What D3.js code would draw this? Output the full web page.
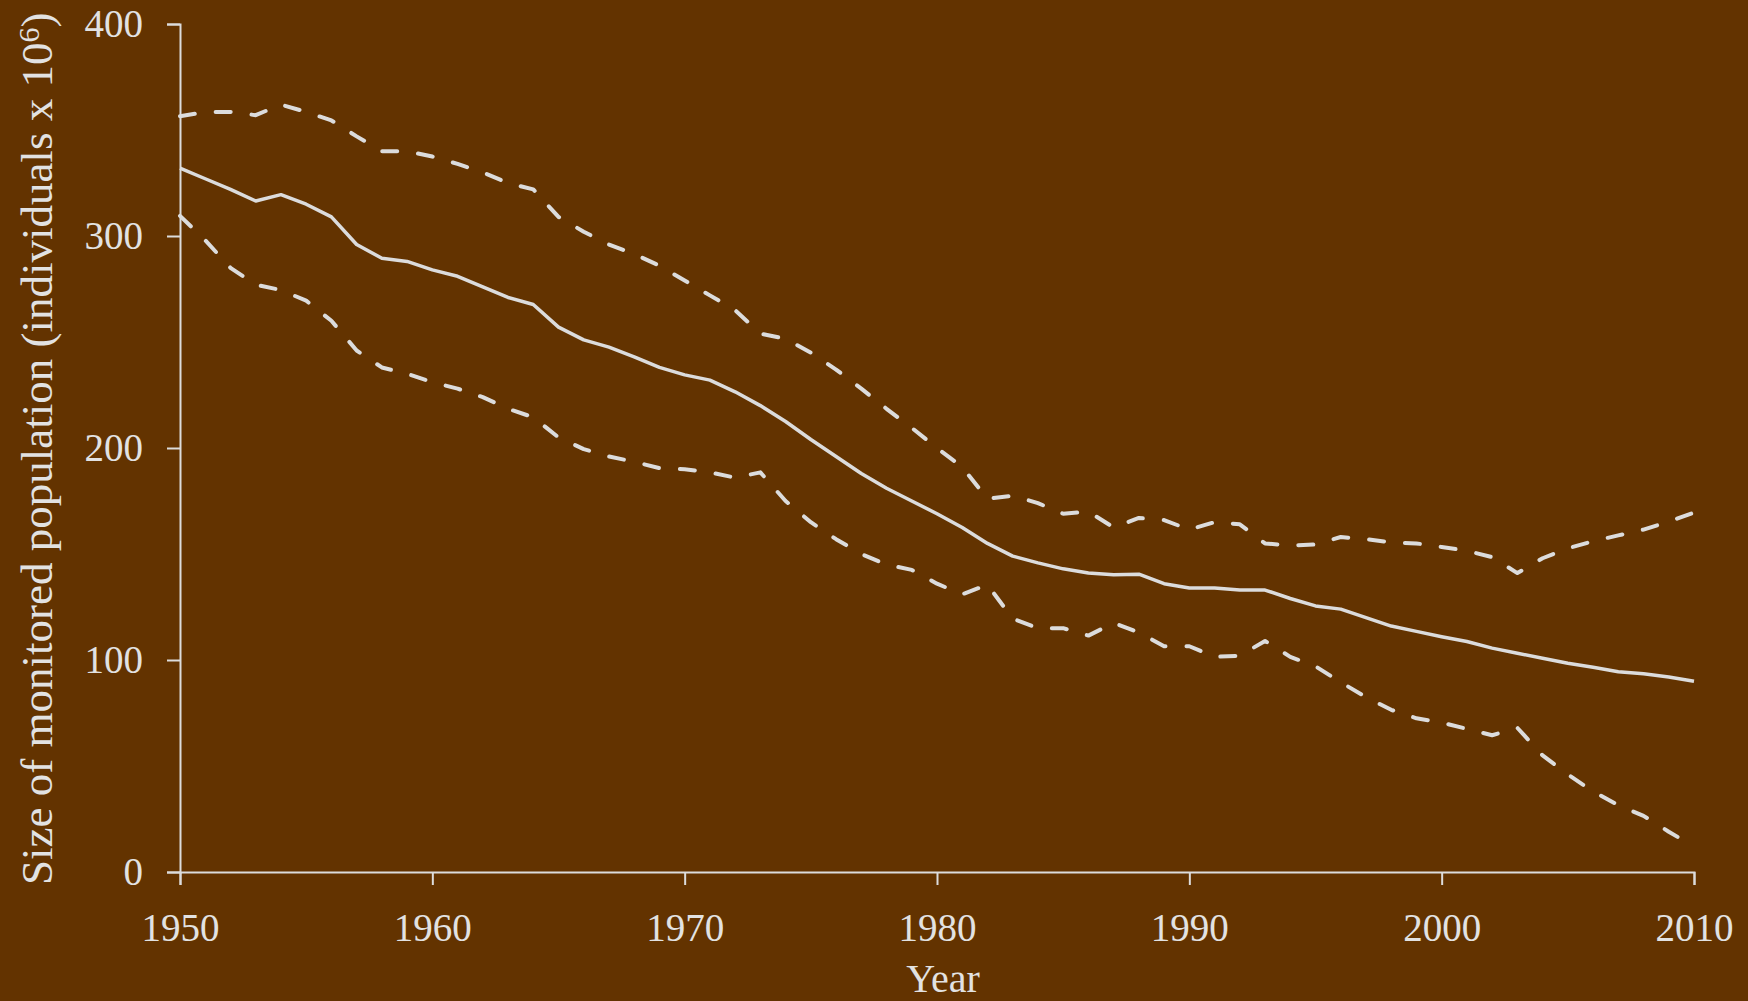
<!DOCTYPE html>
<html>
<head>
<meta charset="utf-8">
<script src="https://cdn.jsdelivr.net/npm/d3@7"></script>
<style>
  html, body { margin: 0; padding: 0; background: #633300; }
  svg { display: block; }
</style>
</head>
<body>
<svg id="chart" width="1748" height="1001"></svg>
<script>
// Monitored population size per year, with upper and lower bounds (millions)
const years = [
  1950, 1951, 1952, 1953, 1954, 1955, 1956, 1957, 1958, 1959,
  1960, 1961, 1962, 1963, 1964, 1965, 1966, 1967, 1968, 1969,
  1970, 1971, 1972, 1973, 1974, 1975, 1976, 1977, 1978, 1979,
  1980, 1981, 1982, 1983, 1984, 1985, 1986, 1987, 1988, 1989,
  1990, 1991, 1992, 1993, 1994, 1995, 1996, 1997, 1998, 1999,
  2000, 2001, 2002, 2003, 2004, 2005, 2006, 2007, 2008, 2009,
  2010
];

const estimate = [
  332, 327, 322, 316.5, 319.5, 315, 309, 296, 289.5, 288,
  284, 281, 276, 271, 267.7, 257, 251, 247.6, 243, 238,
  234.5, 232, 226.5, 220, 212.5, 204, 196, 188, 181, 175,
  169, 162.5, 155, 149, 145.8, 143, 141, 140.2, 140.5, 136,
  134, 134, 133, 133, 129, 125.5, 124, 120, 116, 113.5,
  111, 108.7, 105.6, 103.2, 100.8, 98.5, 96.6, 94.5, 93.5, 92,
  90
];

const upperBound = [
  356.5, 358.5, 358.5, 357, 362, 358.5, 354.5, 347, 340, 340,
  337.5, 334, 330, 325, 322, 309, 302, 296, 291.5, 286,
  279, 272, 265, 254, 251.5, 245, 237, 228, 218.5, 209.5,
  200, 191, 176, 177.5, 174, 169, 170, 162.5, 167, 166,
  161.5, 165, 164, 155, 154, 154.5, 158, 157, 155.5, 155,
  153.3, 151.5, 148.5, 141, 148, 152.7, 156, 158.8, 161.5, 165.3,
  169.5
];

const lowerBound = [
  309.5, 298, 285, 277, 274.5, 269.5, 260, 246, 238, 235,
  231, 228, 224, 218.5, 214.5, 205, 199.5, 196, 193.5, 190.5,
  190, 188.5, 186, 188.5, 175, 165, 157, 150, 145, 142.5,
  136, 131, 135.5, 119.5, 115, 115, 111.5, 117.5, 113, 106.5,
  106.5, 101.5, 102, 109, 101.5, 97, 89.5, 82.5, 76.5, 72.5,
  70.5, 67.5, 64.5, 68, 55, 46, 38, 31.5, 26.5, 19,
  12
];

const xTicks = [1950, 1960, 1970, 1980, 1990, 2000, 2010];
const yTicks = [0, 100, 200, 300, 400];

const ink = "#dcdcdc";
const textInk = "#e2e2e2";
const serif = "'Liberation Serif', 'Times New Roman', serif";

const svg = d3.select("#chart");

const x = d3.scaleLinear().domain([1950, 2010]).range([180, 1694]);
const y = d3.scaleLinear().domain([0, 400]).range([872, 24]);

// Axes
const xAxis = svg.append("g")
  .attr("transform", `translate(0,${y(0)})`)
  .call(d3.axisBottom(x).tickValues(xTicks).tickFormat(d3.format("d"))
    .tickSize(13).tickSizeOuter(13).tickPadding(28));

const yAxis = svg.append("g")
  .attr("transform", `translate(${x(1950)},0)`)
  .call(d3.axisLeft(y).tickValues(yTicks).tickFormat(d3.format("d"))
    .tickSize(13).tickSizeOuter(13).tickPadding(24));

[xAxis, yAxis].forEach(g => {
  g.select(".domain").attr("stroke", ink).attr("stroke-width", 2);
  g.selectAll(".tick line").attr("stroke", ink).attr("stroke-width", 2);
  g.selectAll(".tick text")
    .attr("fill", textInk)
    .style("font-family", serif)
    .style("font-size", "39px");
});

// Series: bounds dashed, central estimate solid
const line = d3.line()
  .x((d, i) => x(years[i]))
  .y(d => y(d));

[upperBound, lowerBound].forEach(series => {
  svg.append("path")
    .datum(series)
    .attr("fill", "none")
    .attr("stroke", ink)
    .attr("stroke-width", 4)
    .attr("stroke-linecap", "round")
    .attr("stroke-linejoin", "round")
    .attr("stroke-dasharray", "15,21")
    .attr("d", line);
});

svg.append("path")
  .datum(estimate)
  .attr("fill", "none")
  .attr("stroke", ink)
  .attr("stroke-width", 3.5)
  .attr("stroke-linejoin", "round")
  .attr("d", line);

// Axis titles
svg.append("text")
  .attr("x", 943)
  .attr("y", 992)
  .attr("text-anchor", "middle")
  .attr("fill", textInk)
  .style("font-family", serif)
  .style("font-size", "40px")
  .text("Year");

const yTitle = svg.append("text")
  .attr("transform", "translate(52,885) rotate(-90)")
  .attr("text-anchor", "start")
  .attr("fill", textInk)
  .style("font-family", serif)
  .style("font-size", "45px");
yTitle.append("tspan").text("Size of monitored population (individuals x 10");
yTitle.append("tspan").attr("dy", "-0.45em").style("font-size", "30px").text("6");
yTitle.append("tspan").attr("dy", "0.3em").text(")");
</script>
</body>
</html>
